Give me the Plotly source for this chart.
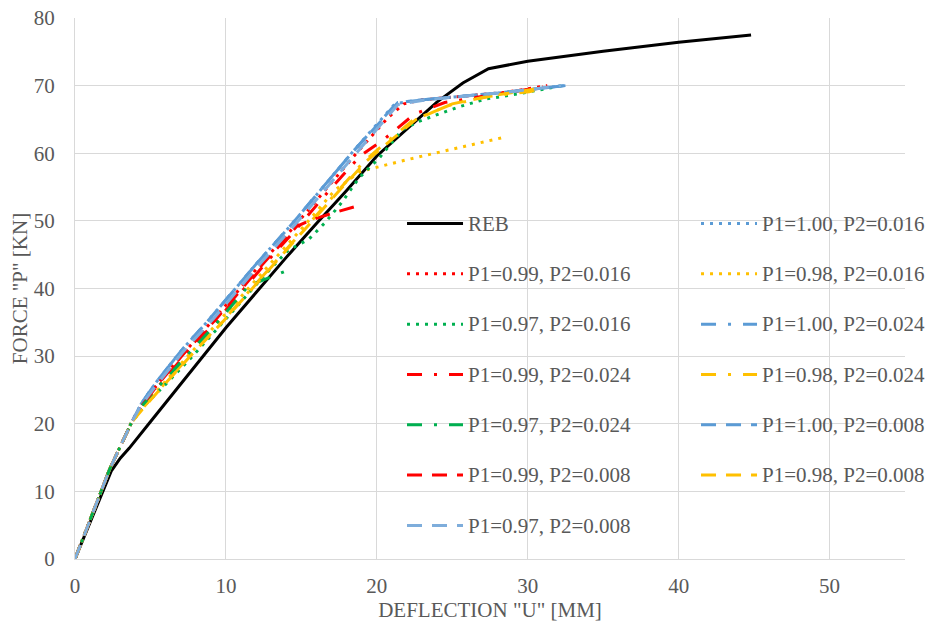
import plotly.graph_objects as go

# ---------------- data ----------------
reb_x = [0, 1.8, 2.4, 3.0, 3.6, 5.0, 7.0, 10, 12, 14, 16, 18, 20, 22, 24, 25.7, 27.4, 30, 35, 40, 44.8]
reb_y = [0, 9.6, 13.0, 14.9, 16.4, 20.3, 25.9, 34.2, 39.4, 44.6, 49.6, 54.5, 59.6, 63.6, 67.6, 70.4, 72.5, 73.6, 75.1, 76.4, 77.5]

# P2 = 0.016
p100_016_x = [0, 2.3, 3.75, 4.4, 5.4, 7.0, 9.0, 12.0, 14.4, 16.5, 18.4, 21.2, 22.5, 24.0, 28.0, 32.4]
p100_016_y = [0, 13.3, 20.2, 23.0, 26.2, 30.7, 35.7, 43.6, 49.6, 55.2, 60.2, 67.3, 67.8, 68.1, 68.9, 70.0]
p099_016_x = [0, 2.3, 3.75, 4.5, 5.6, 7.3, 9.3, 12.3, 14.7, 16.8, 18.8, 20.8, 21.8, 23.0, 26.0, 28.5, 31.3]
p099_016_y = [0, 13.3, 20.2, 23.0, 26.2, 30.7, 35.7, 43.6, 49.6, 55.2, 60.4, 65.4, 67.3, 67.9, 68.5, 69.0, 70.0]
p098_016_x = [0, 2.3, 3.75, 4.6, 5.8, 7.6, 9.7, 12.8, 15.2, 17.2, 18.9, 21.9, 25.0, 28.5]
p098_016_y = [0, 13.3, 20.2, 22.8, 25.8, 30.3, 35.4, 43.3, 49.3, 54.5, 57.3, 59.0, 60.6, 62.4]
p097_016_x = [0, 2.3, 3.75, 4.6, 5.9, 7.8, 10.2, 12.7, 14.1, 15.5, 16.6, 17.7, 18.8, 20.2, 21.7, 22.8, 24.1, 25.5, 27.2, 29.4, 32.3]
p097_016_y = [0, 13.3, 20.2, 22.7, 25.6, 30.0, 36.0, 42.3, 45.6, 47.3, 49.8, 52.8, 56.3, 59.4, 63.5, 64.7, 65.8, 66.9, 68.0, 68.8, 70.0]

# P2 = 0.024
p100_024_x = [0, 2.3, 3.75, 4.4, 5.4, 7.0, 9.0, 12.0, 14.4, 16.5, 18.4, 21.3, 22.5, 24.0, 28.0, 32.5]
p100_024_y = [0, 13.3, 20.2, 23.0, 26.2, 30.7, 35.7, 43.6, 49.6, 55.2, 60.2, 67.4, 67.8, 68.1, 68.9, 70.0]
p099_024_x = [0, 2.3, 3.75, 4.5, 5.7, 7.4, 9.5, 12.5, 14.9, 17.0, 18.9, 20.5, 22.5, 24.5, 27.5, 31.0]
p099_024_y = [0, 13.3, 20.2, 22.9, 26.0, 30.5, 35.5, 43.4, 49.4, 54.9, 59.6, 62.1, 65.8, 67.5, 68.6, 69.8]
p098_024_x = [0, 2.3, 3.75, 4.6, 5.8, 7.6, 9.8, 12.9, 15.3, 17.4, 19.2, 20.4, 22.4, 24.8, 27.4, 30.1, 31.0]
p098_024_y = [0, 13.3, 20.2, 22.6, 25.6, 30.0, 35.2, 43.0, 49.0, 54.3, 58.9, 61.2, 64.9, 67.1, 68.4, 69.1, 69.6]
p097_024_x = [0, 2.3, 3.75, 4.5, 5.7, 7.5, 9.6, 11.5, 12.8, 14.1]
p097_024_y = [0, 13.3, 20.2, 22.8, 25.9, 30.3, 35.4, 40.4, 41.6, 42.7]

# P2 = 0.008
p100_008_x = [0, 2.3, 3.75, 4.4, 5.4, 7.0, 9.0, 12.0, 14.4, 16.5, 18.4, 21.4, 22.5, 24.0, 28.0, 32.5]
p100_008_y = [0, 13.3, 20.2, 23.0, 26.2, 30.7, 35.7, 43.6, 49.6, 55.2, 60.2, 67.5, 67.8, 68.1, 68.9, 70.0]
p099_008_x = [0, 2.3, 3.75, 4.5, 5.6, 7.3, 9.4, 12.4, 14.7, 15.6, 17.0, 19.0]
p099_008_y = [0, 13.3, 20.2, 22.9, 26.1, 30.6, 35.6, 43.5, 49.2, 50.1, 51.1, 52.4]
p098_008_x = [0, 2.3, 3.75, 4.6, 5.8, 7.6, 9.8, 12.9, 15.3, 17.4, 19.3, 20.6, 22.6, 25.0, 27.6, 30.5]
p098_008_y = [0, 13.3, 20.2, 22.5, 25.5, 29.9, 35.1, 42.9, 48.9, 54.2, 58.8, 61.3, 65.0, 67.3, 68.5, 69.5]
p097_008_x = [0, 2.3, 3.75, 4.4, 5.5, 7.1, 9.2, 12.2, 14.6, 16.7, 18.6, 21.4, 23.0, 25.0, 28.5, 32.2]
p097_008_y = [0, 13.3, 20.2, 22.8, 26.0, 30.5, 35.6, 43.5, 49.5, 55.0, 60.0, 67.2, 67.8, 68.3, 69.0, 70.0]

x_ticks = [0, 10, 20, 30, 40, 50]
y_ticks = [0, 10, 20, 30, 40, 50, 60, 70, 80]

# ---------------- styles ----------------
BLUE = "#5B9BD5"
RED = "#FF0000"
GOLD = "#FFC000"
GREEN = "#00B050"
LBLUE = "#7EADDB"
DOT = "3px,6px"
DASHDOT = "15px,12px,3px,12px"
LONGDASH = "15px,10px"

series = [
    ("REB", reb_x, reb_y, "#000000", "solid"),
    ("P1=1.00, P2=0.016", p100_016_x, p100_016_y, BLUE, DOT),
    ("P1=0.99, P2=0.016", p099_016_x, p099_016_y, RED, DOT),
    ("P1=0.98, P2=0.016", p098_016_x, p098_016_y, GOLD, DOT),
    ("P1=0.97, P2=0.016", p097_016_x, p097_016_y, GREEN, DOT),
    ("P1=1.00, P2=0.024", p100_024_x, p100_024_y, BLUE, DASHDOT),
    ("P1=0.99, P2=0.024", p099_024_x, p099_024_y, RED, DASHDOT),
    ("P1=0.98, P2=0.024", p098_024_x, p098_024_y, GOLD, DASHDOT),
    ("P1=0.97, P2=0.024", p097_024_x, p097_024_y, GREEN, DASHDOT),
    ("P1=1.00, P2=0.008", p100_008_x, p100_008_y, BLUE, LONGDASH),
    ("P1=0.99, P2=0.008", p099_008_x, p099_008_y, RED, LONGDASH),
    ("P1=0.98, P2=0.008", p098_008_x, p098_008_y, GOLD, LONGDASH),
    ("P1=0.97, P2=0.008", p097_008_x, p097_008_y, LBLUE, LONGDASH),
]

FONT = "Liberation Serif, Times New Roman, serif"
TXT = "#595959"
GRID = "#D9D9D9"
FS = 21

fig = go.Figure()
for name, xs, ys, color, dash in series:
    fig.add_trace(go.Scatter(
        x=xs, y=ys, mode="lines",
        name='<span style="font-size:%dpx">%s</span><br> ' % (FS, name),
        line=dict(color=color, width=3, dash=dash),
    ))

fig.update_layout(
    width=926, height=628,
    margin=dict(l=75, r=21, t=18, b=69, autoexpand=False),
    paper_bgcolor="white", plot_bgcolor="white",
    font=dict(family=FONT, size=FS, color=TXT),
    showlegend=True,
    legend=dict(
        orientation="h", x=0.394, y=0.654, xanchor="left", yanchor="top",
        entrywidth=223, entrywidthmode="pixels", itemwidth=56,
        font=dict(family=FONT, size=18.2, color=TXT),
        valign="top", bgcolor="rgba(0,0,0,0)", traceorder="normal",
        maxheight=600,
    ),
    xaxis=dict(
        range=[0, 55], tickvals=x_ticks, showgrid=True, gridcolor=GRID, gridwidth=1,
        zeroline=False, showline=True, linecolor=GRID, linewidth=1,
        ticks="", ticklabelstandoff=8,
        tickfont=dict(family=FONT, size=FS, color=TXT),
        title=dict(text='DEFLECTION "U" [MM]', font=dict(family=FONT, size=FS, color=TXT), standoff=4),
    ),
    yaxis=dict(
        range=[0, 80], tickvals=y_ticks, showgrid=True, gridcolor=GRID, gridwidth=1,
        zeroline=False, showline=True, linecolor=GRID, linewidth=1,
        ticks="", ticklabelstandoff=15,
        tickfont=dict(family=FONT, size=FS, color=TXT),
        title=dict(text='FORCE "P" [KN]', font=dict(family=FONT, size=FS, color=TXT), standoff=0),
    ),
)

fig.write_html("out.html")
